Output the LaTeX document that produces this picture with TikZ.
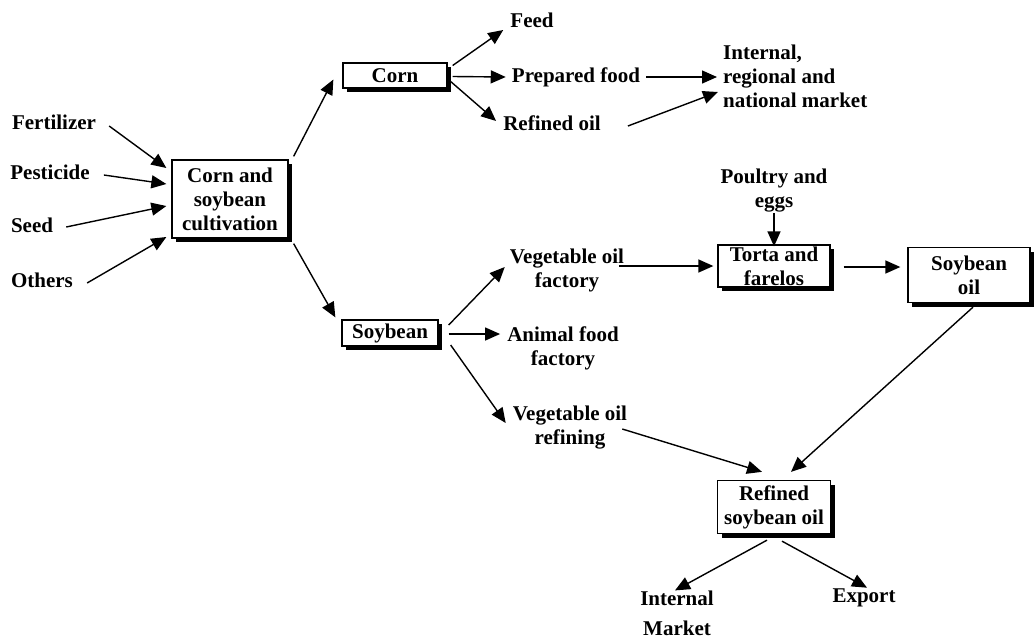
\documentclass[tikz,border=0pt]{standalone}
\usepackage{fontspec}
\setmainfont{Liberation Serif}
\usetikzlibrary{arrows.meta,shadows}
\newcommand\lbfont{\fontsize{21}{24}\selectfont\bfseries}
\tikzset{
  lbl/.style={font=\lbfont, inner sep=0pt, align=center},
  box/.style={draw, line width=1.3pt, fill=white, inner sep=0pt, align=center,
    font=\lbfont,
    drop shadow={shadow xshift=4pt, shadow yshift=-4pt, fill=black, opacity=1}},
  arr/.style={line width=1.4pt, -{Triangle[length=15pt,width=13pt]}}
}
\begin{document}
\begin{tikzpicture}[x=1pt,y=-1pt]
\fill[white] (0,0) rectangle (1035,638);
\useasboundingbox (0,0) rectangle (1035,638);

% inputs
\node[lbl] (fert)   at (54,122)  {Fertilizer};
\node[lbl] (pest)   at (50,172)  {Pesticide};
\node[lbl] (seed)   at (32,225)  {Seed};
\node[lbl] (others) at (42,280)  {Others};

% boxes
\node[box, minimum width=116pt, minimum height=78pt] (cult) at (230,199)
  {Corn and\\soybean\\cultivation};
\node[box, minimum width=104pt, minimum height=25pt] (corn) at (395,75.5) {Corn};
\node[box, minimum width=96pt, minimum height=26pt] (soy) at (390,333) {Soybean};
\node[box, minimum width=112pt, minimum height=42pt] (torta) at (774,266)
  {Torta and\\farelos};
\node[box, minimum width=122pt, minimum height=55pt] (soyoil) at (969,275)
  {Soybean\\oil};
\node[box, minimum width=113pt, minimum height=53pt] (refsoy) at (774,507)
  {Refined\\soybean oil};

% corn outputs
\node[lbl] (feed)   at (532,20)  {Feed};
\node[lbl] (prep)   at (576,77)  {Prepared food};
\node[lbl] (refoil) at (552,123) {Refined oil};
\node[lbl, align=left, anchor=west] (mkt) at (723,76)
  {Internal,\\regional and\\national market};

% soybean outputs
\node[lbl] (vof)   at (567,270) {Vegetable oil\\factory};
\node[lbl] (afood) at (563,348) {Animal food\\factory};
\node[lbl] (vor)   at (570,428) {Vegetable oil\\refining};
\node[lbl] (poul)  at (774,191) {Poultry and\\eggs};

% final markets
\node[lbl, font=\fontsize{21}{30}\selectfont\bfseries] (intm) at (677,613)
  {Internal\\Market};
\node[lbl] (export) at (864,598) {Export};

% connectors
\draw[arr] ([shift={(13,4)}]fert.east)   -- ([shift={(-5,-31)}]cult.west);
\draw[arr] ([shift={(14,3)}]pest.east)   -- ([shift={(-5,-15)}]cult.west);
\draw[arr] ([shift={(13,2)}]seed.east)   -- ([shift={(-5,7)}]cult.west);
\draw[arr] ([shift={(14,3)}]others.east) -- ([shift={(-5,38)}]cult.west);

\draw[arr] ([shift={(5,-3)}]cult.north east) -- ([shift={(-9,4)}]corn.west);
\draw[arr] ([shift={(5,5)}]cult.south east)  -- ([shift={(-6,-2)}]soy.north west);

\draw[arr] ([shift={(5,-10)}]corn.east) -- ([shift={(-7,10)}]feed.west);
\draw[arr] ([shift={(5,1)}]corn.east)   -- ([shift={(-6,0)}]prep.west);
\draw[arr] ([shift={(3,6)}]corn.east)   -- ([shift={(-7,-2)}]refoil.west);

\draw[arr] ([shift={(6,0)}]prep.east)    -- ([shift={(-6,1)}]mkt.west);
\draw[arr] ([shift={(27,3)}]refoil.east) -- ([shift={(-5,16)}]mkt.west);

\draw[arr] ([shift={(10,-8)}]soy.east) -- ([shift={(-5,-3)}]vof.west);
\draw[arr] ([shift={(10,1)}]soy.east)  -- ([shift={(-7,-14)}]afood.west);
\draw[arr] ([shift={(12,12)}]soy.east) -- ([shift={(-7,-5)}]vor.west);

\draw[arr] ([shift={(-5,-4)}]vof.east) -- ([xshift=-4pt]torta.west);
\draw[arr] (poul.south -| torta.north) -- ([yshift=-2pt]torta.north);
\draw[arr] ([shift={(13,1)}]torta.east) -- ([shift={(-7,-8)}]soyoil.west);

\draw[arr] ([shift={(4,4)}]soyoil.south) -- ([shift={(17,-8)}]refsoy.north);
\draw[arr] ([shift={(-5,1)}]vor.east)    -- ([shift={(-12,-8)}]refsoy.north);

\draw[arr] ([shift={(-7,6)}]refsoy.south) -- ([shift={(-2,0)}]intm.north);
\draw[arr] ([shift={(8,7)}]refsoy.south)  -- ([shift={(3,-1)}]export.north);
\end{tikzpicture}
\end{document}
